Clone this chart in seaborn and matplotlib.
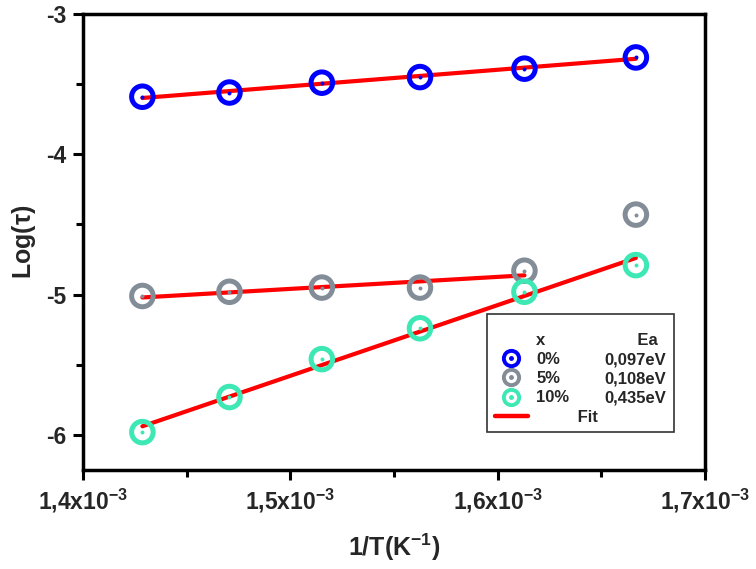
import numpy as np
import pandas as pd
import matplotlib
matplotlib.use("Agg")
import matplotlib.pyplot as plt
from matplotlib.lines import Line2D
from matplotlib.ticker import MultipleLocator, FuncFormatter
import seaborn as sns

# ---- data ----
temperatures = [700, 680, 660, 640, 620, 600]
inv_T = [1.0 / t for t in temperatures]
log_tau_0 = [-3.59, -3.56, -3.49, -3.45, -3.39, -3.31]
log_tau_5 = [-5.01, -4.98, -4.95, -4.95, -4.83, -4.43]
log_tau_10 = [-5.98, -5.73, -5.46, -5.24, -4.98, -4.79]
series_names = ["0%", "5%", "10%"]
ea_labels = ["0,097eV", "0,108eV", "0,435eV"]
fit_points = [6, 5, 6]  # number of points used in each fit
colors = ["#0000ff", "#838d97", "#3de8b4"]

sns.set_theme(style="white")
plt.rcParams["font.family"] = ["Liberation Sans", "DejaVu Sans"]
plt.rcParams["font.weight"] = "bold"
plt.rcParams["mathtext.fontset"] = "custom"
plt.rcParams["mathtext.rm"] = "Liberation Sans:bold"
plt.rcParams["mathtext.it"] = "Liberation Sans:bold"
plt.rcParams["mathtext.bf"] = "Liberation Sans:bold"
plt.rcParams["mathtext.default"] = "bf"

fig = plt.figure(figsize=(7.56, 5.69), dpi=100)
ax = fig.add_axes([0.110, 0.174, 0.8225, 0.8015])

all_y = [log_tau_0, log_tau_5, log_tau_10]

# fits
for name, ys, n in zip(series_names, all_y, fit_points):
    xs = np.array(inv_T[:n]); yy = np.array(ys[:n])
    k, b = np.polyfit(xs, yy, 1)
    fx = np.array([xs[0], xs[-1]])
    sns.lineplot(x=fx, y=k * fx + b, ax=ax, color="#ff0000", lw=3, zorder=3)

# markers: open rings with a centre dot
for name, ys, c in zip(series_names, all_y, colors):
    n_before = len(ax.collections)
    sns.scatterplot(x=inv_T, y=ys, ax=ax, color=c, marker="o", s=240,
                    linewidth=3.6, legend=False, zorder=4)
    coll = ax.collections[n_before]
    coll.set_facecolor("none")
    coll.set_edgecolor(c)
    sns.scatterplot(x=inv_T, y=ys, ax=ax, color=c, s=8, linewidth=0,
                    legend=False, zorder=5)

ax.set_xlim(1.4e-3, 1.7e-3)
ax.set_ylim(-6.25, -3)
ax.xaxis.set_major_locator(MultipleLocator(1e-4))
ax.xaxis.set_minor_locator(MultipleLocator(5e-5))
ax.yaxis.set_major_locator(MultipleLocator(1))
ax.yaxis.set_minor_locator(MultipleLocator(0.5))

def xfmt(v, pos):
    m = ("%.1f" % (v * 1e3)).replace(".", "{,}")
    return r"$\mathbf{%sx10^{-3}}$" % m
ax.xaxis.set_major_formatter(FuncFormatter(xfmt))
ax.yaxis.set_major_formatter(FuncFormatter(lambda v, p: "-%d" % abs(round(v))))

ax.tick_params(which="both", direction="out", bottom=True, left=True,
               top=False, right=False, labelsize=16.5, width=2.2, color="black",
               pad=5)
ax.tick_params(which="major", length=7)
ax.tick_params(which="minor", length=5)
for t in ax.get_yticklabels() + ax.get_xticklabels():
    t.set_fontweight("bold")
for sp in ax.spines.values():
    sp.set_linewidth(2.5)
    sp.set_color("black")
ax.grid(False)

ax.set_xlabel(r"1/T(K$^{\mathbf{-1}}$)", fontsize=18, fontweight="bold", labelpad=12)
ax.set_ylabel(r"Log($\tau$)", fontsize=18, fontweight="bold", labelpad=6)

# legend
blank = Line2D([], [], linestyle="none", marker=None)
h_series = []
for c in colors:
    ring = Line2D([], [], linestyle="none", marker="o", markersize=11,
                  markerfacecolor="none", markeredgecolor=c, markeredgewidth=2.8)
    dot = Line2D([], [], linestyle="none", marker="o", markersize=2.5,
                 color=c)
    h_series.append((ring, dot))
fit_h = Line2D([], [], color="#ff0000", lw=3.2)
handles = [blank] + h_series + [fit_h] + [blank] * 5
labels = ["x"] + series_names + ["         Fit"] + ["       Ea"] + ea_labels + [""]
leg = ax.legend(handles, labels, ncol=2, loc="lower left",
                bbox_to_anchor=(0.6495, 0.083), frameon=True, fancybox=False,
                edgecolor="black", fontsize=12, handlelength=2.0,
                columnspacing=-2.1, labelspacing=0.25, borderpad=0.45,
                handletextpad=0.5, title=" ", title_fontsize=5,
                borderaxespad=0)
leg.get_frame().set_linewidth(1.2)
for t in leg.get_texts():
    t.set_fontweight("bold")

fig.savefig("out.png", dpi=100)
